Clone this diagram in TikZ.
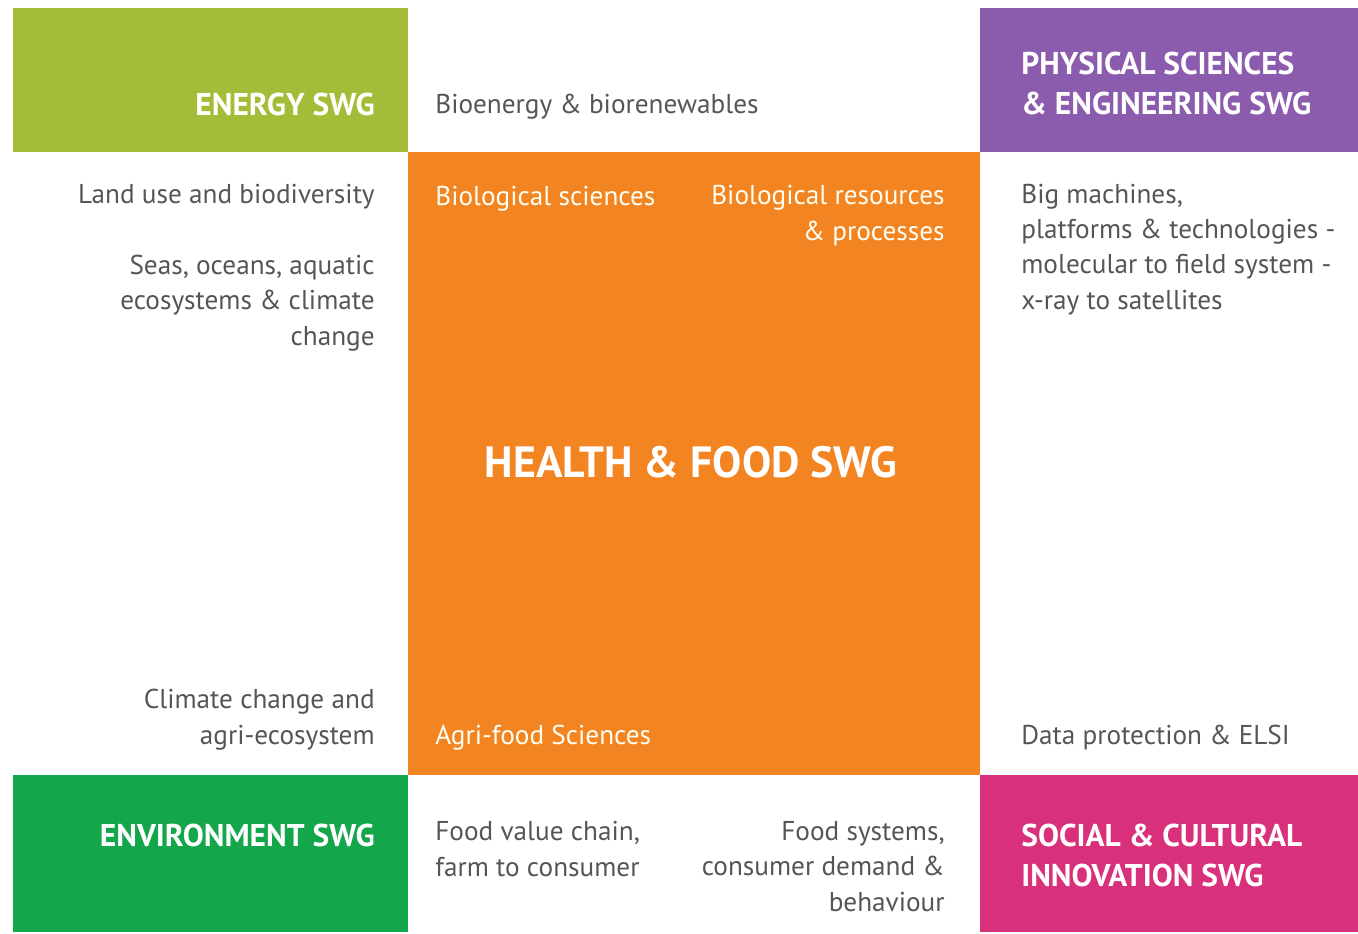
\documentclass[tikz,border=0pt]{standalone}
\usepackage{fontspec}
\setmainfont{PT Sans}
\definecolor{energycol}{HTML}{A4BD38}
\definecolor{physcol}{HTML}{8B5CAE}
\definecolor{healthcol}{HTML}{F28421}
\definecolor{envcol}{HTML}{14A64A}
\definecolor{socialcol}{HTML}{D8307A}
\definecolor{txtgray}{HTML}{555555}
\tikzset{
  swg/.style={text=white, font=\bfseries\fontsize{17.9}{22.7}\selectfont, inner sep=0pt, align=left},
  topic/.style={text=txtgray, font=\fontsize{15.5}{20.1}\selectfont, inner sep=0pt},
  intopic/.style={topic, text=white!95!yellow},
}
\begin{document}
\begin{tikzpicture}[x=0.02cm, y=-0.02cm]
      \useasboundingbox (0,0) rectangle (1358,933);
      % coloured blocks
      \fill[energycol] (13,8) rectangle (408,152);
      \fill[physcol] (980,8) rectangle (1358,152);
      \fill[healthcol] (408,152) rectangle (980,775);
      \fill[envcol] (13,775) rectangle (408,932);
      \fill[socialcol] (980,775) rectangle (1358,932);
      % group titles (base = last line)
      \node[swg, anchor=base east] (energy) at (375,115) {ENERGY SWG};
      \node[swg, anchor=base west] (physical) at (1021,114) {PHYSICAL SCIENCES\\\& ENGINEERING SWG};
      \node[swg, anchor=base east] (environment) at (375,846) {ENVIRONMENT SWG};
      \node[swg, anchor=base west] (social) at (1021,886) {SOCIAL \& CULTURAL\\INNOVATION SWG};
      \node[swg, font=\bfseries\fontsize{24.9}{30}\selectfont] (health) at (691,462) {HEALTH \& FOOD SWG};
      % topics
      \node[topic, anchor=base west] (bioenergy) at (435,113) {Bioenergy \& biorenewables};
      \node[topic, anchor=base east] (landuse) at (375,203) {Land use and biodiversity};
      \node[topic, anchor=base east, align=right] (seas) at (375,345) {Seas, oceans, aquatic\\ecosystems \& climate\\change};
      \node[topic, anchor=base east, align=right] (climate) at (375,744) {Climate change and\\agri-ecosystem};
      \node[topic, anchor=base west, align=left] (machines) at (1021,309) {Big machines,\\platforms \& technologies -\\molecular to field system -\\x-ray to satellites};
      \node[topic, anchor=base west] (data) at (1021,744) {Data protection \& ELSI};
      \node[topic, anchor=base west, align=left] (valuechain) at (435,876) {Food value chain,\\farm to consumer};
      \node[topic, anchor=base east, align=right] (foodsys) at (945,911) {Food systems,\\consumer demand \&\\behaviour};
      \node[intopic, anchor=base west] (biosci) at (435,205) {Biological sciences};
      \node[intopic, anchor=base east, align=right] (bioresources) at (945,240) {Biological resources\\\& processes};
      \node[intopic, anchor=base west] (agrifood) at (435,744) {Agri-food Sciences};
    \end{tikzpicture}
\end{document}
